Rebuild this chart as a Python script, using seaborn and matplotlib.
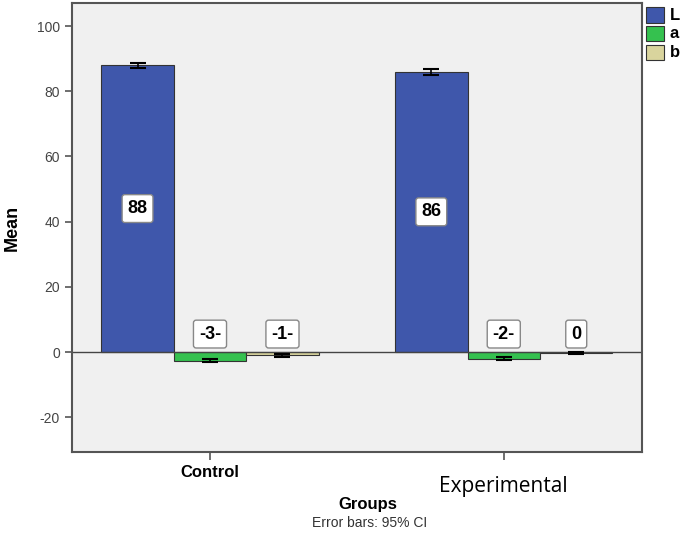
import numpy as np
import pandas as pd
import matplotlib
matplotlib.use("Agg")
import matplotlib.pyplot as plt
import seaborn as sns

groups = ["Control", "Experimental"]
measures = ["L", "a", "b"]
means_L = [88.0, 86.0]
means_a = [-2.7, -2.1]
means_b = [-1.0, -0.3]
ci_L = [0.8, 0.9]
ci_a = [0.5, 0.5]
ci_b = [0.4, 0.4]
labels_L = ["88", "86"]
labels_a = ["-3-", "-2-"]
labels_b = ["-1-", "0"]

colors = ["#3F57AB", "#35C14F", "#D9D49D"]

df = pd.DataFrame({
    "Groups": groups * 3,
    "measure": ["L"] * 2 + ["a"] * 2 + ["b"] * 2,
    "Mean": means_L + means_a + means_b,
})
cis = [ci_L, ci_a, ci_b]
labs = [labels_L, labels_a, labels_b]

sns.set_style("ticks")
plt.rcParams["font.family"] = ["Liberation Sans", "DejaVu Sans"]
plt.rcParams["axes.unicode_minus"] = False

fig = plt.figure(figsize=(6.85, 5.35), dpi=100)
ax = fig.add_axes([0.105, 0.155, 0.832, 0.839])
ax.set_facecolor("#F0F0F0")

sns.barplot(data=df, x="Groups", y="Mean", hue="measure", order=groups,
            hue_order=measures, palette=colors, errorbar=None, width=0.74,
            edgecolor="#333333", linewidth=0.8, saturation=1, ax=ax)

box = dict(boxstyle="round,pad=0.3,rounding_size=0.15", fc="white", ec="#888888", lw=1)
bar_conts = list(ax.containers)
for k, cont in enumerate(bar_conts):
    for i, p in enumerate(cont.patches):
        xc = p.get_x() + p.get_width() / 2
        h = p.get_y() + p.get_height()
        ax.errorbar(xc, h, yerr=cis[k][i], color="black", capsize=6, capthick=1.5,
                    elinewidth=1.2, fmt="none")
        if k == 0:
            ax.text(xc, h / 2, labs[k][i], ha="center", va="center", fontsize=13,
                    fontweight="bold", color="black", bbox=box)
        else:
            ax.text(xc, 5.5, labs[k][i], ha="center", va="center", fontsize=13,
                    fontweight="bold", color="black", bbox=box)

ax.axhline(0, color="#444444", lw=1, zorder=1)
ax.set_ylim(-30.7, 107)
ax.set_xlim(-0.47, 1.47)
ax.set_yticks([-20, 0, 20, 40, 60, 80, 100])
ax.tick_params(axis="y", left=True, labelsize=10, length=5, width=1.2,
               color="#555555", labelcolor="#444444")
ax.tick_params(axis="x", bottom=True, length=6, width=1.2, color="#555555", labelcolor="black")
for s in ax.spines.values():
    s.set_visible(True)
    s.set_color("#555555")
    s.set_linewidth(1.5)

ax.set_xticks([0, 1])
ax.set_xticklabels(groups)
tl = ax.get_xticklabels()
tl[0].set_fontweight("bold")
tl[0].set_fontsize(12)
tl[1].set_family(["Open Sans", "DejaVu Sans"])
tl[1].set_fontsize(15)
ax.xaxis.get_major_ticks()[1].set_pad(11)

ax.set_xlabel("Groups", fontsize=12, fontweight="bold", color="black")
ax.xaxis.set_label_coords(0.52, -0.1)
ax.set_ylabel("Mean", fontsize=13, fontweight="bold", color="black")
ax.yaxis.set_label_coords(-0.09, 0.5)

leg = ax.legend(loc="upper left", bbox_to_anchor=(1.0, 1.0), frameon=False,
                handlelength=1.3, handleheight=1.3, handletextpad=0.4,
                labelspacing=0.25, borderaxespad=0.0, borderpad=0.3)
for t in leg.get_texts():
    t.set_fontweight("bold")
    t.set_fontsize(12)
    t.set_color("black")

fig.text(0.54, 0.022, "Error bars: 95% CI", ha="center", va="center", fontsize=10, color="#333333")

fig.savefig("out.png", dpi=100)
